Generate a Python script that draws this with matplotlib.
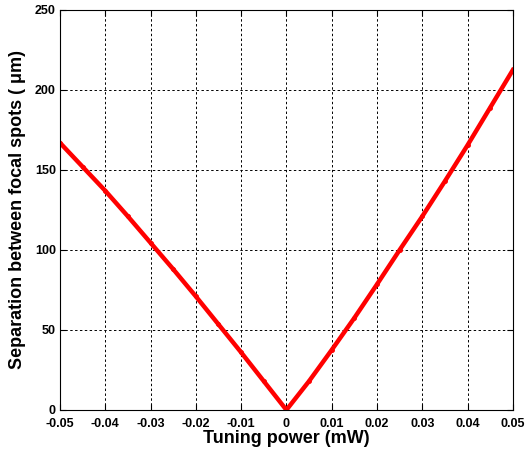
import matplotlib.pyplot as plt

# values
power = [-0.05, -0.045, -0.04, -0.035, -0.03, -0.025, -0.02, -0.015, -0.01, -0.005, 0.0,
         0.005, 0.01, 0.015, 0.02, 0.025, 0.03, 0.035, 0.04, 0.045, 0.05]
separation = [167, 152, 137, 121, 104.5, 88, 71, 53.5, 36, 18, 0,
              18, 37.5, 57.5, 78.5, 100, 121, 143, 165.5, 189, 212.5]

xticks = [-0.05, -0.04, -0.03, -0.02, -0.01, 0, 0.01, 0.02, 0.03, 0.04, 0.05]
xticklabels = ['-0.05', '-0.04', '-0.03', '-0.02', '-0.01', '0', '0.01', '0.02', '0.03', '0.04', '0.05']
yticks = [0, 50, 100, 150, 200, 250]

plt.rcParams['font.family'] = ['Liberation Sans', 'DejaVu Sans']

fig = plt.figure(figsize=(5.26, 4.54), dpi=100)
ax = fig.add_axes([0.114, 0.097, 0.861, 0.881])

ax.plot(power, separation, color='red', linewidth=3.2, marker='.', markersize=5)

ax.set_xlim(-0.05, 0.05)
ax.set_ylim(0, 250)
ax.set_xticks(xticks)
ax.set_xticklabels(xticklabels)
ax.set_yticks(yticks)
ax.tick_params(direction='in', top=True, right=True, length=4, labelsize=9)
ax.tick_params(axis='x', pad=6)
ax.tick_params(axis='y', pad=3)
for lab in ax.get_xticklabels() + ax.get_yticklabels():
    lab.set_fontweight('bold')

ax.grid(True, color='black', linestyle=(0, (2.5, 2.5)), linewidth=0.7)
for s in ax.spines.values():
    s.set_linewidth(0.8)

ax.set_xlabel('Tuning power (mW)', fontsize=13, fontweight='bold', labelpad=0)
ax.set_ylabel('Separation between focal spots ( μm)', fontsize=13, fontweight='bold', labelpad=6)

fig.savefig('out.png', dpi=100)
